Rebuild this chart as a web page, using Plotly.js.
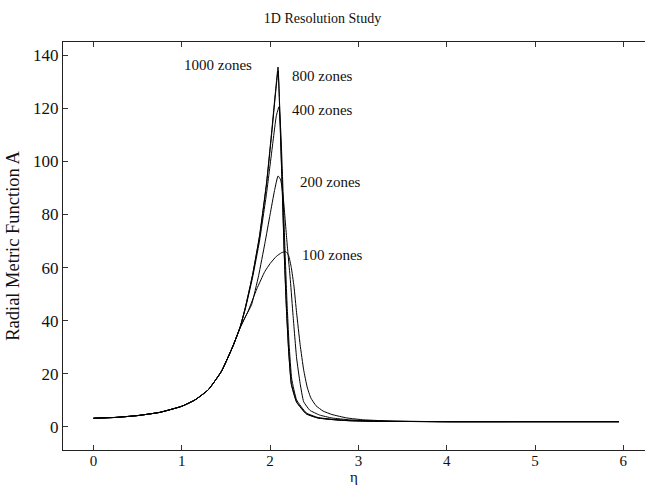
<!DOCTYPE html>
<html>
<head>
<meta charset="utf-8">
<script src="https://cdn.plot.ly/plotly-3.0.1.min.js"></script>
<style>html,body{margin:0;padding:0;background:#fff;}#chart{width:645px;height:487px;}</style>
</head>
<body>
<div id="chart"></div>
<script>
// eta values and Radial Metric Function A for each resolution
const eta1000 = [0,0.25,0.5,0.75,1.0,1.15,1.3,1.45,1.58,1.66,1.72,1.8,1.88,1.96,2.02,2.06,2.09,2.105,2.12,2.135,2.16,2.185,2.21,2.24,2.30,2.41,2.54,2.7,2.87,3.2,4.0,5.0,5.95];
const A1000   = [3.3,3.6,4.3,5.5,7.8,10.2,14.0,21.0,30.5,37.5,45,57,72,92,112,126,135.5,124,108,93,66,45,29,16.5,9.5,5.0,3.4,2.8,2.4,2.15,2.0,2.0,2.0];

const eta800 = [0,0.25,0.5,0.75,1.0,1.15,1.3,1.45,1.58,1.66,1.72,1.8,1.88,1.96,2.02,2.06,2.09,2.105,2.12,2.135,2.16,2.185,2.21,2.24,2.30,2.41,2.54,2.7,2.87,3.2,4.0,5.0,5.95];
const A800   = [3.3,3.6,4.3,5.5,7.8,10.2,14.0,21.0,30.5,37.5,45,57,71.5,91.5,111,125,134,123,107,92,65,44,28.5,16,9.3,4.9,3.4,2.8,2.4,2.15,2.0,2.0,2.0];

const eta400 = [0,0.25,0.5,0.75,1.0,1.15,1.3,1.45,1.58,1.66,1.72,1.8,1.88,1.96,2.02,2.07,2.10,2.12,2.14,2.165,2.19,2.215,2.245,2.30,2.41,2.54,2.7,2.87,3.2,4.0,5.0,5.95];
const A400   = [3.3,3.6,4.3,5.5,7.8,10.2,14.0,21.0,30.5,37.5,44.5,56,70,88,104,117,120.5,112,95,70,48,31,18,10.2,5.3,3.6,2.9,2.45,2.15,2.0,2.0,2.0];

const eta200 = [0,0.25,0.5,0.75,1.0,1.15,1.3,1.45,1.58,1.66,1.72,1.79,1.87,1.94,2.0,2.05,2.09,2.12,2.15,2.19,2.23,2.26,2.30,2.34,2.38,2.45,2.56,2.7,2.9,3.2,4.0,5.0,5.95];
const A200   = [3.3,3.6,4.3,5.5,7.8,10.2,14.0,21.0,30.5,37.3,41.5,46,57,69,80,89,94.5,93,86,70,55,42,26,16.4,9.5,6.3,4.5,3.4,2.7,2.25,2.0,2.0,2.0];

const eta100 = [0,0.25,0.5,0.75,1.0,1.15,1.3,1.45,1.58,1.66,1.75,1.85,1.94,2.0,2.07,2.13,2.18,2.21,2.24,2.27,2.30,2.34,2.38,2.42,2.46,2.52,2.6,2.7,2.87,3.06,3.4,4.0,5.0,5.95];
const A100   = [3.3,3.6,4.3,5.5,7.8,10.2,14.0,21.0,30.5,37.3,43.5,52,58.5,61.5,64.2,65.6,66,64.5,60,53,43,31,21.5,15,11,8,6,4.7,3.4,2.7,2.2,2.0,2.0,2.0];

const seriesNames = ["1000 zones","800 zones","400 zones","200 zones","100 zones"];
const labelX = [1.41, 2.59, 2.59, 2.68, 2.71];
const labelY = [136.2, 132.1, 119.3, 92.2, 64.7];

const xTicks = [0,1,2,3,4,5,6];
const yTicks = [0,20,40,60,80,100,120,140];

const serif = '"Liberation Serif", "Times New Roman", serif';
const etas = [eta1000, eta800, eta400, eta200, eta100];
const As = [A1000, A800, A400, A200, A100];

const traces = etas.map((e, i) => ({
  x: e, y: As[i], type: 'scatter', mode: 'lines', name: seriesNames[i],
  line: {color: '#000', width: 1, shape: 'spline', smoothing: 0.4}
}));

const annotations = seriesNames.map((n, i) => ({
  x: labelX[i], y: labelY[i], xref: 'x', yref: 'y', text: n, showarrow: false,
  font: {family: serif, size: 15, color: '#111'}
}));
// x-axis title drawn as a paper annotation just below the tick labels
annotations.push({
  x: 0.5, y: -0.0907, xref: 'paper', yref: 'paper', xanchor: 'center', yanchor: 'bottom',
  text: 'η', showarrow: false, font: {family: serif, size: 15, color: '#111'}
});

const layout = {
  width: 645, height: 487,
  margin: {l: 63, r: 0, t: 42, b: 37},
  paper_bgcolor: '#fff', plot_bgcolor: '#fff',
  showlegend: false,
  title: {text: '1D Resolution Study', x: 0.5, xanchor: 'center', y: 0.963, yanchor: 'middle',
          font: {family: serif, size: 14, color: '#111'}},
  xaxis: {
    range: [-0.345, 6.245], tickvals: xTicks, ticktext: xTicks.map(String),
    ticks: 'inside', ticklen: 5, tickcolor: '#333', showline: true, linecolor: '#222', linewidth: 1,
    mirror: 'ticks', showgrid: false, zeroline: false, ticklabelstandoff: -3,
    tickfont: {family: serif, size: 15, color: '#111'}
  },
  yaxis: {
    range: [-8.66, 144.9], tickvals: yTicks, ticktext: yTicks.map(String),
    ticks: 'inside', ticklen: 5, tickcolor: '#333', showline: true, linecolor: '#222', linewidth: 1,
    showgrid: false, zeroline: false,
    tickfont: {family: serif, size: 17, color: '#111'},
    title: {text: 'Radial Metric Function A', font: {family: serif, size: 18.5, color: '#111'}, standoff: 8}
  },
  annotations: annotations
};

Plotly.newPlot('chart', traces, layout, {staticPlot: true, displayModeBar: false});
</script>
</body>
</html>
